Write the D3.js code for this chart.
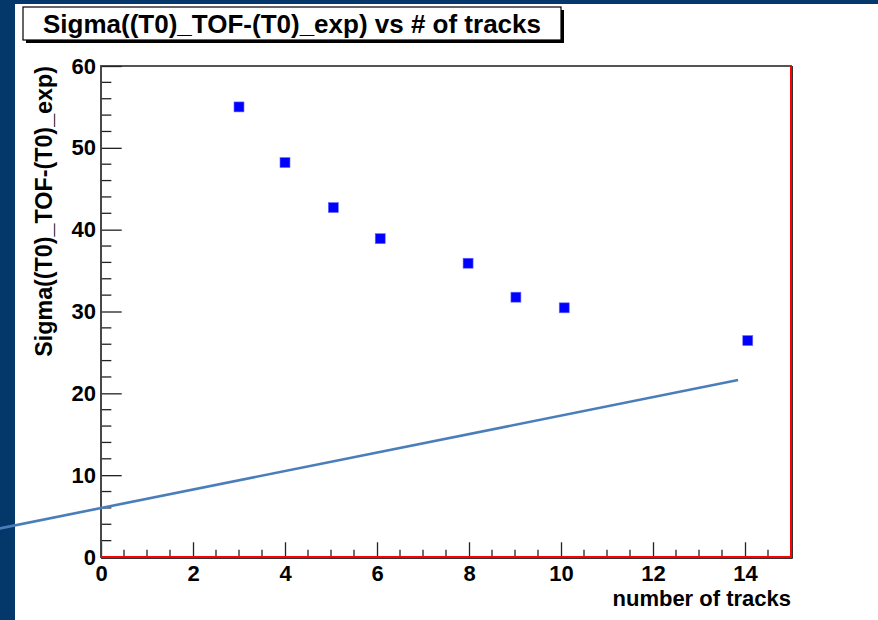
<!DOCTYPE html>
<html>
<head>
<meta charset="utf-8">
<script src="https://cdn.jsdelivr.net/npm/d3@7"></script>
<style>
  html, body { margin: 0; padding: 0; background: #04386b; }
  svg { display: block; }
  text { font-family: "Liberation Sans", Arial, Helvetica, sans-serif; font-weight: bold; fill: #000; }
</style>
</head>
<body>
<svg id="chart" width="878" height="620"></svg>
<script>
// Mean number of tracks per bin and the measured resolution
const nTracks = [3, 4, 5.05, 6.07, 7.98, 9.02, 10.07, 14.06];
const sigmaT0 = [55.0, 48.2, 42.7, 38.9, 35.9, 31.75, 30.45, 26.45];

// Straight guide line (data coordinates of its two ends)
const guideX = [-2.2, 13.85];
const guideY = [3.5, 21.63];

const xMajorTicks = [0, 2, 4, 6, 8, 10, 12, 14];
const yMajorTicks = [0, 10, 20, 30, 40, 50, 60];

const titleText = "Sigma((T0)_TOF-(T0)_exp) vs # of tracks";
const xTitle = "number of tracks";
const yTitle = "Sigma((T0)_TOF-(T0)_exp)";

const svg = d3.select("#chart");
const W = 878, H = 620;

// White canvas pad
svg.append("rect").attr("x", 15).attr("y", 4).attr("width", W - 15).attr("height", H - 4).attr("fill", "#fff");

const plot = { left: 101, right: 791, top: 66, bottom: 557 };
const x = d3.scaleLinear().domain([0, 15]).range([plot.left, plot.right]);
const y = d3.scaleLinear().domain([0, 60]).range([plot.bottom, plot.top]);

// Frame
svg.append("rect")
  .attr("x", plot.left).attr("y", plot.top)
  .attr("width", plot.right - plot.left).attr("height", plot.bottom - plot.top)
  .attr("fill", "none").attr("stroke", "#555").attr("stroke-width", 2);

// Minor ticks
const xMinor = d3.range(0, 15.01, 0.5).filter(v => !xMajorTicks.includes(v));
const yMinor = d3.range(0, 60.01, 2).filter(v => !yMajorTicks.includes(v));
const xLen = 0.03 * (plot.bottom - plot.top);
const yLen = 0.03 * (plot.right - plot.left);

const xAxis = d3.axisBottom(x).tickValues(xMajorTicks).tickSize(-xLen).tickPadding(8).tickFormat(d3.format("d"));
const gx = svg.append("g").attr("transform", `translate(0,${plot.bottom})`).call(xAxis);
gx.select(".domain").remove();
gx.selectAll(".tick line").attr("stroke", "#222").attr("stroke-width", 1.3);
gx.selectAll(".tick text").attr("font-size", 22).attr("fill", "#000").attr("dy", "0.72em").attr("y", 8);
gx.selectAll(".minor").data(xMinor).join("line")
  .attr("x1", d => x(d)).attr("x2", d => x(d)).attr("y1", 0).attr("y2", -xLen / 2)
  .attr("stroke", "#222").attr("stroke-width", 1.3);

const yAxis = d3.axisLeft(y).tickValues(yMajorTicks).tickSize(-yLen).tickPadding(6).tickFormat(d3.format("d"));
const gy = svg.append("g").attr("transform", `translate(${plot.left},0)`).call(yAxis);
gy.select(".domain").remove();
gy.selectAll(".tick line").attr("stroke", "#222").attr("stroke-width", 1.3);
gy.selectAll(".tick text").attr("font-size", 22).attr("fill", "#000").attr("x", -5);
gy.selectAll(".minor").data(yMinor).join("line")
  .attr("y1", d => y(d)).attr("y2", d => y(d)).attr("x1", 0).attr("x2", yLen / 2)
  .attr("stroke", "#222").attr("stroke-width", 1.3);

// Left axis line
svg.append("line").attr("x1", plot.left).attr("x2", plot.left).attr("y1", plot.top).attr("y2", plot.bottom)
  .attr("stroke", "#444").attr("stroke-width", 1.5);

// Red bottom and right edges with dark outline
svg.append("path")
  .attr("d", `M${plot.left},${plot.bottom + 1.5}H${plot.right + 1.5}V${plot.top}`)
  .attr("fill", "none").attr("stroke", "#333").attr("stroke-width", 1);
svg.append("path")
  .attr("d", `M${plot.left},${plot.bottom}H${plot.right}V${plot.top}`)
  .attr("fill", "none").attr("stroke", "#ff0000").attr("stroke-width", 2);

// Data markers
const pts = nTracks.map((v, i) => ({ x: v, y: sigmaT0[i] }));
const ms = 10;
svg.append("g").selectAll("rect").data(pts).join("rect")
  .attr("x", d => x(d.x) - ms / 2).attr("y", d => y(d.y) - ms / 2)
  .attr("width", ms).attr("height", ms)
  .attr("fill", "#0000ff").attr("stroke", "#6f6fff").attr("stroke-width", 0.6);

// Guide line
const guide = guideX.map((v, i) => ({ x: v, y: guideY[i] }));
svg.append("path").datum(guide)
  .attr("d", d3.line().x(d => x(d.x)).y(d => y(d.y)))
  .attr("fill", "none").attr("stroke", "#4a7ebb").attr("stroke-width", 2.6);

// Axis titles
svg.append("text").attr("x", plot.right).attr("y", 606).attr("text-anchor", "end")
  .attr("font-size", 22).text(xTitle);
svg.append("text").attr("transform", `translate(52,${plot.top}) rotate(-90)`).attr("text-anchor", "end")
  .attr("font-size", 23.3).text(yTitle);

// Title box with shadow
const tb = { x: 23, y: 7, w: 538, h: 33 };
svg.append("rect").attr("x", tb.x + 3).attr("y", tb.y + 3).attr("width", tb.w).attr("height", tb.h).attr("fill", "#000");
svg.append("rect").attr("x", tb.x).attr("y", tb.y).attr("width", tb.w).attr("height", tb.h)
  .attr("fill", "#fff").attr("stroke", "#000").attr("stroke-width", 1.2);
svg.append("text").attr("x", tb.x + tb.w / 2).attr("y", tb.y + 26).attr("text-anchor", "middle")
  .attr("font-size", 26).text(titleText);
</script>
</body>
</html>
